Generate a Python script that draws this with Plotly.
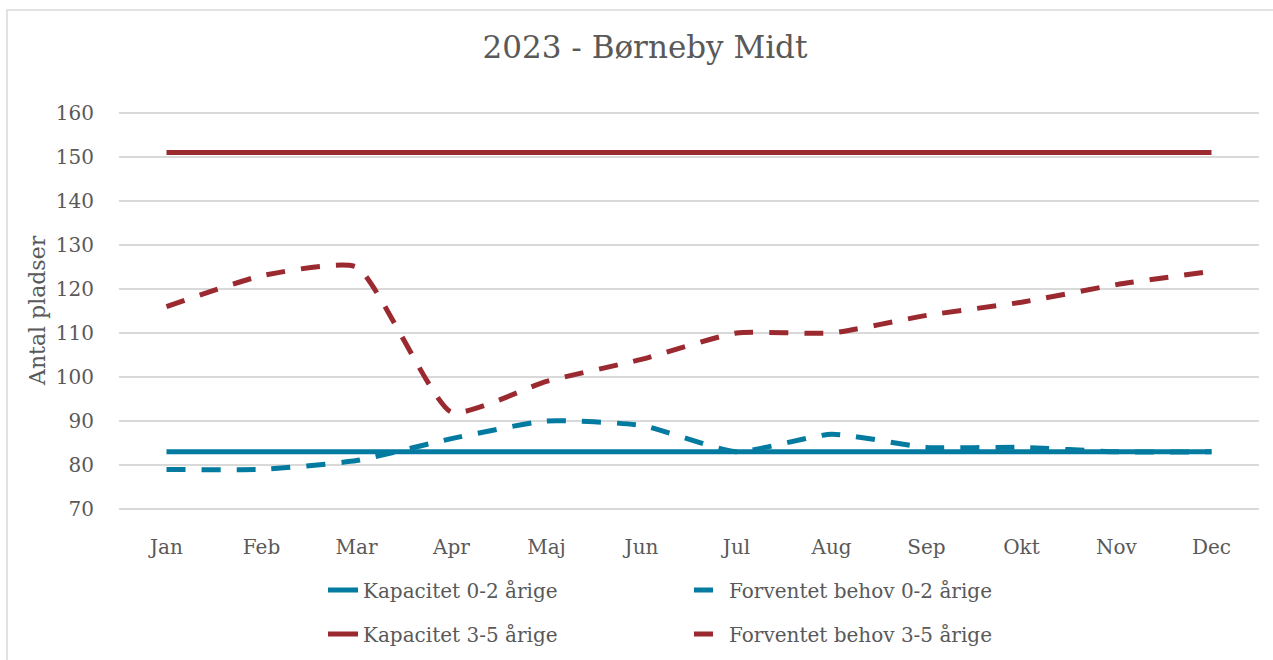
import plotly.graph_objects as go

months = ["Jan", "Feb", "Mar", "Apr", "Maj", "Jun", "Jul", "Aug", "Sep", "Okt", "Nov", "Dec"]
kap_02 = [83] * 12
behov_02 = [79, 79, 81, 86, 90, 89, 83, 87, 84, 84, 83, 83]
kap_35 = [151] * 12
behov_35 = [116, 123, 125, 92, 99, 104, 110, 110, 114, 117, 121, 124]

TEAL = "#037BA1"
RED = "#9B2A30"
GREY_TXT = "#595959"
FONT = "DejaVu Serif"

W, H = 1273, 660
L, R, T, B = 119, 14, 112, 150
pw, ph = W - L - R, H - T - B
Y0, Y1 = 70 - 0.23, 160 + 0.23

def px_x(x):
    return (x - L) / pw

def px_y(y):
    return (H - B - y) / ph

fig = go.Figure()
fig.add_trace(go.Scatter(x=months, y=kap_02, name="Kapacitet 0-2 årige", mode="lines",
                         line=dict(color=TEAL, width=5), legend="legend"))
fig.add_trace(go.Scatter(x=months, y=behov_02, name="Forventet behov 0-2 årige", mode="lines",
                         line=dict(color=TEAL, width=5, dash="19px,16px", shape="spline", smoothing=0.5),
                         legend="legend"))
fig.add_trace(go.Scatter(x=months, y=kap_35, name="Kapacitet 3-5 årige", mode="lines",
                         line=dict(color=RED, width=5), legend="legend2"))
fig.add_trace(go.Scatter(x=months, y=behov_35, name="Forventet behov 3-5 årige", mode="lines",
                         line=dict(color=RED, width=5, dash="19px,16px", shape="spline", smoothing=0.5),
                         legend="legend2"))

legend_common = dict(orientation="h", entrywidth=321, entrywidthmode="pixels",
                     font=dict(family=FONT, size=20, color=GREY_TXT),
                     bgcolor="rgba(0,0,0,0)", xanchor="left", yanchor="middle",
                     traceorder="normal")

fig.update_layout(
    width=W, height=H,
    margin=dict(l=L, r=R, t=T, b=B, autoexpand=False),
    paper_bgcolor="white", plot_bgcolor="white",
    hovermode=False,
    title=dict(text="2023 - Børneby Midt", font=dict(family=FONT, size=31, color=GREY_TXT),
               x=645 / W, xanchor="center", xref="container",
               y=1 - 47 / H, yanchor="middle", yref="container"),
    legend=dict(x=px_x(323), y=px_y(590), **legend_common),
    legend2=dict(x=px_x(323), y=px_y(634), **legend_common),
    xaxis=dict(showgrid=False, zeroline=False, showline=False, range=[-0.5, 11.5],
               ticks="outside", ticklen=19, tickcolor="rgba(0,0,0,0)",
               tickfont=dict(family=FONT, size=20, color=GREY_TXT)),
    yaxis=dict(range=[Y0, Y1], tick0=70, dtick=10, showgrid=True, gridcolor="#D9D9D9", gridwidth=1.5,
               zeroline=False, showline=False,
               ticks="outside", ticklen=20, tickcolor="rgba(0,0,0,0)",
               tickfont=dict(family=FONT, size=20, color=GREY_TXT)),
    annotations=[dict(text="Antal pladser", textangle=-90, x=px_x(37), y=0.5,
                      xref="paper", yref="paper", showarrow=False, xanchor="center", yanchor="middle",
                      font=dict(family=FONT, size=22, color=GREY_TXT))],
    shapes=[dict(type="rect", xref="paper", yref="paper",
                 x0=px_x(7), x1=px_x(1285), y0=px_y(10), y1=px_y(700),
                 line=dict(color="#D9D9D9", width=1.5), layer="below")],
)

fig.write_html("out.html", config={"displayModeBar": False},
               post_script="document.body.style.margin='0';document.body.style.overflow='hidden';")
